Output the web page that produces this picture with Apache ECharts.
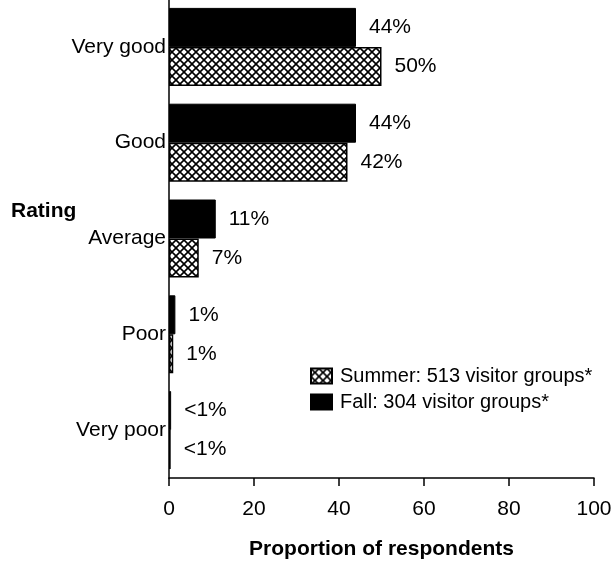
<!DOCTYPE html>
<html>
<head>
<meta charset="utf-8">
<script src="https://cdn.jsdelivr.net/npm/echarts@6/dist/echarts.min.js"></script>
<style>
html,body{margin:0;padding:0;background:#fff;}
#chart{width:613px;height:561px;}
</style>
</head>
<body>
<div id="chart"></div>
<script>
// ---- data ----
const categories = ['Very good', 'Good', 'Average', 'Poor', 'Very poor'];
const fallValues = [44, 44, 11, 1.5, 0.5];
const summerValues = [50, 42, 7, 1, 0.4];
const fallLabels = ['44%', '44%', '11%', '1%', '<1%'];
const summerLabels = ['50%', '42%', '7%', '1%', '<1%'];
const fallName = 'Fall: 304 visitor groups*';
const summerName = 'Summer: 513 visitor groups*';
const xTicks = [0, 20, 40, 60, 80, 100];

// crosshatch pattern
function makeHatch() {
  const s = 8;
  const c = document.createElement('canvas');
  c.width = s; c.height = s;
  const g = c.getContext('2d');
  g.fillStyle = '#fff';
  g.fillRect(0, 0, s, s);
  g.strokeStyle = '#000';
  g.lineWidth = 1.6;
  g.beginPath();
  g.moveTo(-1, -1); g.lineTo(s + 1, s + 1);
  g.moveTo(s + 1, -1); g.lineTo(-1, s + 1);
  g.stroke();
  return c;
}
const hatch = makeHatch();

const FONT = '"Liberation Sans", Arial, Helvetica, sans-serif';
const FS = 21;
const chart = echarts.init(document.getElementById('chart'), null, {renderer: 'canvas'});

chart.setOption({
  animation: false,
  backgroundColor: '#fff',
  textStyle: {fontFamily: FONT, color: '#000'},
  grid: {left: 169, right: 19, top: -1, bottom: 83, containLabel: false, outerBoundsMode: 'none'},
  legend: {
    orient: 'vertical',
    left: 310, top: 366,
    itemWidth: 21, itemHeight: 15, itemGap: 6,
    padding: 0,
    icon: 'rect',
    data: [summerName, fallName],
    textStyle: {fontFamily: FONT, fontSize: 20, color: '#000', padding: [0, 0, 0, 3]}
  },
  graphic: [{
    type: 'text', left: 11, top: 201,
    style: {text: 'Rating', font: 'bold 21px ' + FONT, fill: '#000'}
  }],
  xAxis: {
    type: 'value', min: xTicks[0], max: xTicks[xTicks.length - 1], interval: 20,
    name: 'Proportion of respondents', nameLocation: 'middle', nameGap: 61,
    nameTextStyle: {fontFamily: FONT, fontSize: 21, fontWeight: 'bold', color: '#000'},
    axisLine: {show: true, lineStyle: {color: '#000', width: 1.5}},
    axisTick: {show: true, length: 8, lineStyle: {color: '#000', width: 1.5}},
    axisLabel: {fontFamily: FONT, fontSize: FS, color: '#000', margin: 21},
    splitLine: {show: false}
  },
  yAxis: {
    type: 'category', data: categories, inverse: true,
    axisLine: {show: true, lineStyle: {color: '#000', width: 1.5}},
    axisTick: {show: false},
    axisLabel: {fontFamily: FONT, fontSize: FS, color: '#000', margin: 3, padding: [2, 0, 0, 0]}
  },
  series: [
    {
      name: fallName, type: 'bar', data: fallValues,
      barWidth: 39, barGap: '0%',
      itemStyle: {color: '#000', borderColor: '#000', borderWidth: 1},
      label: {
        show: true, position: 'right', distance: 13,
        fontFamily: FONT, fontSize: FS, color: '#000',
        formatter: p => fallLabels[p.dataIndex]
      }
    },
    {
      name: summerName, type: 'bar', data: summerValues,
      barWidth: 39, barGap: '0%',
      itemStyle: {color: {image: hatch, repeat: 'repeat'}, borderColor: '#000', borderWidth: 1.5},
      label: {
        show: true, position: 'right', distance: 13,
        fontFamily: FONT, fontSize: FS, color: '#000',
        formatter: p => summerLabels[p.dataIndex]
      }
    }
  ]
});
</script>
</body>
</html>
